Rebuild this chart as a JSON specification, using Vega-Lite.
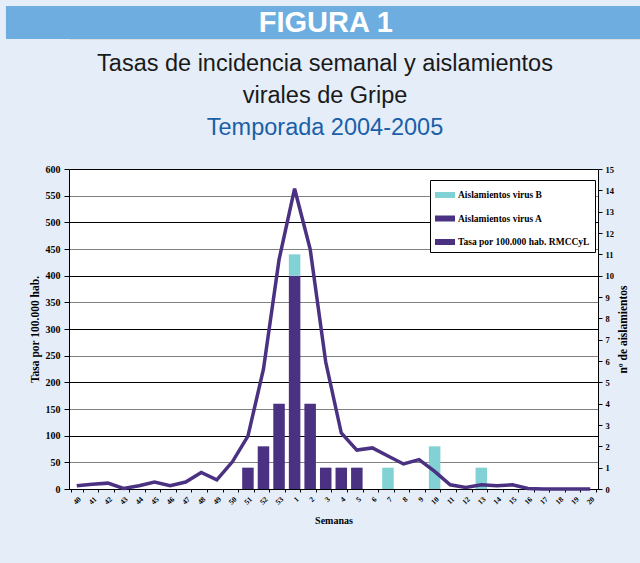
{
  "$schema": "https://vega.github.io/schema/vega-lite/v6.json",
  "background": "#E4EDF8",
  "padding": {"left": 5, "top": 5, "right": 0, "bottom": 39},
  "datasets": {
    "rates": [
      {"week": "40", "serie": "Tasa por 100.000 hab. RMCCyL", "rate": 6},
      {"week": "41", "serie": "Tasa por 100.000 hab. RMCCyL", "rate": 9},
      {"week": "42", "serie": "Tasa por 100.000 hab. RMCCyL", "rate": 11},
      {"week": "43", "serie": "Tasa por 100.000 hab. RMCCyL", "rate": 1},
      {"week": "44", "serie": "Tasa por 100.000 hab. RMCCyL", "rate": 6},
      {"week": "45", "serie": "Tasa por 100.000 hab. RMCCyL", "rate": 13},
      {"week": "46", "serie": "Tasa por 100.000 hab. RMCCyL", "rate": 6},
      {"week": "47", "serie": "Tasa por 100.000 hab. RMCCyL", "rate": 13},
      {"week": "48", "serie": "Tasa por 100.000 hab. RMCCyL", "rate": 31},
      {"week": "49", "serie": "Tasa por 100.000 hab. RMCCyL", "rate": 17},
      {"week": "50", "serie": "Tasa por 100.000 hab. RMCCyL", "rate": 51},
      {"week": "51", "serie": "Tasa por 100.000 hab. RMCCyL", "rate": 99},
      {"week": "52", "serie": "Tasa por 100.000 hab. RMCCyL", "rate": 225},
      {"week": "53", "serie": "Tasa por 100.000 hab. RMCCyL", "rate": 430},
      {"week": "1", "serie": "Tasa por 100.000 hab. RMCCyL", "rate": 563},
      {"week": "2", "serie": "Tasa por 100.000 hab. RMCCyL", "rate": 450},
      {"week": "3", "serie": "Tasa por 100.000 hab. RMCCyL", "rate": 238},
      {"week": "4", "serie": "Tasa por 100.000 hab. RMCCyL", "rate": 105},
      {"week": "5", "serie": "Tasa por 100.000 hab. RMCCyL", "rate": 73},
      {"week": "6", "serie": "Tasa por 100.000 hab. RMCCyL", "rate": 77},
      {"week": "7", "serie": "Tasa por 100.000 hab. RMCCyL", "rate": 62},
      {"week": "8", "serie": "Tasa por 100.000 hab. RMCCyL", "rate": 47},
      {"week": "9", "serie": "Tasa por 100.000 hab. RMCCyL", "rate": 55},
      {"week": "10", "serie": "Tasa por 100.000 hab. RMCCyL", "rate": 33},
      {"week": "11", "serie": "Tasa por 100.000 hab. RMCCyL", "rate": 8},
      {"week": "12", "serie": "Tasa por 100.000 hab. RMCCyL", "rate": 3},
      {"week": "13", "serie": "Tasa por 100.000 hab. RMCCyL", "rate": 8},
      {"week": "14", "serie": "Tasa por 100.000 hab. RMCCyL", "rate": 6},
      {"week": "15", "serie": "Tasa por 100.000 hab. RMCCyL", "rate": 8},
      {"week": "16", "serie": "Tasa por 100.000 hab. RMCCyL", "rate": 1},
      {"week": "17", "serie": "Tasa por 100.000 hab. RMCCyL", "rate": 0},
      {"week": "18", "serie": "Tasa por 100.000 hab. RMCCyL", "rate": 0},
      {"week": "19", "serie": "Tasa por 100.000 hab. RMCCyL", "rate": 0},
      {"week": "20", "serie": "Tasa por 100.000 hab. RMCCyL", "rate": 0}
    ],
    "isolations": [
      {"week": "51", "serie": "Aislamientos virus A", "count": 1},
      {"week": "52", "serie": "Aislamientos virus A", "count": 2},
      {"week": "53", "serie": "Aislamientos virus A", "count": 4},
      {"week": "1", "serie": "Aislamientos virus A", "count": 10},
      {"week": "1", "serie": "Aislamientos virus B", "count": 1},
      {"week": "2", "serie": "Aislamientos virus A", "count": 4},
      {"week": "3", "serie": "Aislamientos virus A", "count": 1},
      {"week": "4", "serie": "Aislamientos virus A", "count": 1},
      {"week": "5", "serie": "Aislamientos virus A", "count": 1},
      {"week": "7", "serie": "Aislamientos virus B", "count": 1},
      {"week": "10", "serie": "Aislamientos virus B", "count": 2},
      {"week": "13", "serie": "Aislamientos virus B", "count": 1}
    ],
    "header": [{"label": "FIGURA 1"}]
  },
  "columns": 1,
  "spacing": 12,
  "resolve": {"scale": {"color": "independent"}, "legend": {"color": "independent"}},
  "concat": [
    {
      "width": 572,
      "height": 33,
      "data": {"name": "header"},
      "layer": [
        {
          "mark": {"type": "rect", "color": "#6DADDF", "clip": false},
          "encoding": {
            "x": {"datum": -0.1102, "type": "quantitative", "scale": {"domain": [0, 1], "nice": false, "zero": false}, "axis": null},
            "x2": {"datum": 1},
            "y": {"datum": 0, "type": "quantitative", "scale": {"domain": [0, 1], "nice": false}, "axis": null},
            "y2": {"datum": 1}
          }
        },
        {
          "mark": {"type": "text", "font": "Liberation Sans", "fontWeight": "bold", "fontSize": 29, "color": "white", "baseline": "middle", "align": "center"},
          "encoding": {
            "text": {"field": "label"},
            "x": {"datum": 0.449, "type": "quantitative"},
            "y": {"datum": 0.5, "type": "quantitative"}
          }
        }
      ]
    },
    {
      "width": 529,
      "height": 320,
      "view": {"fill": "white", "stroke": null},
      "title": {
        "text": ["Tasas de incidencia semanal y aislamientos", "virales de Gripe"],
        "subtitle": "Temporada 2004-2005",
        "font": "Liberation Sans",
        "fontSize": 23.5,
        "fontWeight": "normal",
        "color": "#1a1a1a",
        "lineHeight": 32,
        "subtitleFont": "Liberation Sans",
        "subtitleFontSize": 23.5,
        "subtitleColor": "#1A5FA8",
        "subtitlePadding": 8,
        "offset": 25,
        "dx": 7,
        "anchor": "middle",
        "frame": "bounds"
      },
      "encoding": {
        "x": {
          "field": "week",
          "type": "ordinal",
          "scale": {
            "domain": ["40","41","42","43","44","45","46","47","48","49","50","51","52","53","1","2","3","4","5","6","7","8","9","10","11","12","13","14","15","16","17","18","19","20"],
            "paddingInner": 0.26,
            "paddingOuter": 0.13
          },
          "axis": {
            "title": "Semanas",
            "titleFont": "Liberation Serif",
            "titleFontWeight": "bold",
            "titleFontSize": 10,
            "titleColor": "black",
            "titlePadding": 10,
            "labelFont": "Liberation Serif",
            "labelFontWeight": "bold",
            "labelFontSize": 7.5,
            "labelColor": "black",
            "labelAngle": -45,
            "labelPadding": 3,
            "tickBand": "extent",
            "tickSize": 3,
            "tickColor": "black",
            "domainColor": "black",
            "grid": false
          }
        }
      },
      "layer": [
        {
          "data": {"name": "isolations"},
          "mark": {"type": "bar"},
          "encoding": {
            "y": {
              "field": "count",
              "type": "quantitative",
              "stack": "zero",
              "scale": {"domain": [0, 15], "nice": false},
              "axis": {
                "orient": "right",
                "values": [0,1,2,3,4,5,6,7,8,9,10,11,12,13,14,15],
                "title": "nº de aislamientos",
                "titleAngle": -90,
                "titleBaseline": "top",
                "titleFont": "Liberation Serif",
                "titleFontWeight": "bold",
                "titleFontSize": 11.5,
                "titleColor": "black",
                "titlePadding": 4,
                "labelFont": "Liberation Serif",
                "labelFontWeight": "bold",
                "labelFontSize": 8.5,
                "labelColor": "black",
                "labelPadding": 3,
                "tickSize": 4,
                "tickColor": "black",
                "domainColor": "black",
                "grid": false
              }
            },
            "color": {
              "field": "serie",
              "type": "nominal",
              "scale": {
                "domain": ["Aislamientos virus B", "Aislamientos virus A", "Tasa por 100.000 hab. RMCCyL"],
                "range": ["#82D1D5", "#4B3182", "#4B3182"]
              },
              "legend": {
                "title": null,
                "orient": "none",
                "legendX": 361,
                "legendY": 11,
                "fillColor": "white",
                "strokeColor": "black",
                "padding": 5,
                "symbolType": "M-1,-0.3H1V0.3H-1Z",
                "symbolSize": 400,
                "symbolStrokeWidth": 0,
                "symbolOpacity": 1,
                "labelFont": "Liberation Serif",
                "labelFontWeight": "bold",
                "labelFontSize": 9.5,
                "labelColor": "black",
                "labelOffset": 3,
                "rowPadding": 8.5
              }
            },
            "order": {"field": "serie", "sort": "ascending"}
          }
        },
        {
          "data": {"name": "rates"},
          "mark": {"type": "line", "strokeWidth": 3.5, "strokeJoin": "miter"},
          "encoding": {
            "y": {
              "field": "rate",
              "type": "quantitative",
              "scale": {"domain": [0, 600], "nice": false},
              "axis": {
                "orient": "left",
                "values": [0,50,100,150,200,250,300,350,400,450,500,550,600],
                "title": ["", "Tasa por 100.000 hab."],
                "titleLineHeight": 22,
                "titleFont": "Liberation Serif",
                "titleFontWeight": "bold",
                "titleFontSize": 11.5,
                "titleColor": "black",
                "titlePadding": 5,
                "labelFont": "Liberation Serif",
                "labelFontWeight": "bold",
                "labelFontSize": 10,
                "labelColor": "black",
                "labelPadding": 4,
                "tickSize": 5,
                "tickColor": "black",
                "domainColor": "black",
                "grid": true,
                "gridColor": {"condition": {"test": "datum.value % 100 === 0", "value": "#000000"}, "value": "#808080"},
                "gridWidth": 1.2
              }
            },
            "color": {"field": "serie", "type": "nominal"}
          }
        }
      ],
      "resolve": {"scale": {"y": "independent"}}
    }
  ]
}
